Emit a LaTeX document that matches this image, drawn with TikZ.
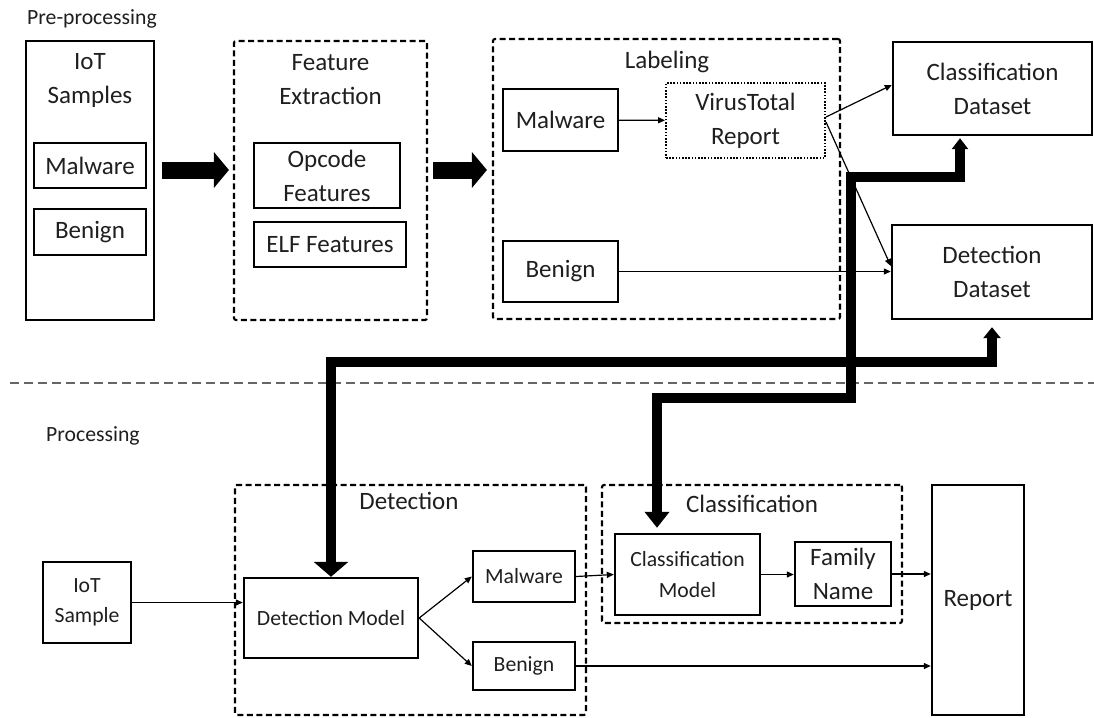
\documentclass[tikz,border=0pt]{standalone}
\usepackage{fontspec}
\setmainfont{Carlito}
\usetikzlibrary{arrows.meta,calc}
\newcommand\fsB{\fontsize{25}{34}\selectfont}
\newcommand\fsS{\fontsize{21.7}{30.5}\selectfont}
\begin{document}
\begin{tikzpicture}[x=1pt,y=-1pt,
  every node/.style={text=black!88},
  box/.style={draw, line width=2.4pt, inner sep=0pt, align=center, font=\fsB},
  sm/.style={font=\fsS},
  dbox/.style={draw, line width=2.1pt, dash pattern=on 6pt off 3.5pt, rounded corners=2pt, inner sep=0pt},
  dotbox/.style={draw, line width=2pt, dash pattern=on 1.6pt off 1.6pt, inner sep=0pt, align=center, font=\fsB},
  ttl/.style={align=center, font=\fsB, inner sep=0pt},
  lbl/.style={font=\fsS, inner sep=0pt},
  arr/.style={line width=1.2pt, -{Triangle[width=6pt,length=7pt]}},
  block/.style={line width=17pt, -{Triangle[width=35pt,length=15pt]}},
  bus/.style={line width=10pt, line join=miter},
  sep/.style={line width=2.6pt, draw=black!60, dash pattern=on 8.5pt off 5.5pt}
]
\useasboundingbox (0,0) rectangle (1094,717);
\fill[white] (0,0) rectangle (1094,717);

% ---------- Pre-processing ----------
\node[lbl, anchor=west] (prep) at (27,19) {Pre-processing};

\node[box, minimum width=128pt, minimum height=279pt] (iots) at (90,180.5) {};
\node[ttl] (iotsT) at (90,80) {IoT\\Samples};
\node[box, minimum width=112pt, minimum height=45pt] (mal1) at (90,165.5) {Malware};
\node[box, minimum width=112pt, minimum height=46pt] (ben1) at (90,232) {Benign};

\node[dbox, minimum width=193pt, minimum height=279pt] (fe) at (330.5,180.5) {};
\node[ttl] (feT) at (330.5,80) {Feature\\Extraction};
\node[box, minimum width=146pt, minimum height=65pt] (opc) at (327,175.5) {Opcode\\Features};
\node[box, minimum width=152pt, minimum height=45pt] (elf) at (330,244.5) {ELF Features};

\node[dbox, minimum width=347pt, minimum height=280pt] (lab) at (666.5,179) {};
\node[ttl] (labT) at (667,62) {Labeling};
\node[box, minimum width=115pt, minimum height=62pt] (mal2) at (560.5,120) {Malware};
\node[dotbox, minimum width=159pt, minimum height=75pt] (vt) at (745.5,120.5) {VirusTotal\\Report};
\node[box, minimum width=115pt, minimum height=61pt] (ben2) at (560.5,271.5) {Benign};

\node[box, minimum width=199pt, minimum height=93pt] (cds) at (992.5,88.5) {Classification\\Dataset};
\node[box, minimum width=200pt, minimum height=94pt] (dds) at (992,272) {Detection\\Dataset};

% block arrows between the stages
\draw[block, shorten <=7pt, shorten >=4pt] ([yshift=10.5pt]iots.east) -- ([yshift=10.5pt]fe.west);
\draw[block, shorten <=5pt, shorten >=5pt] ([yshift=10.5pt]fe.east) -- ([yshift=9pt]lab.west);

% labeling flow
\draw[arr] (mal2) -- (vt);
\draw[arr] ([yshift=3.5pt]vt.east) -- ([yshift=3.5pt]cds.west);
\draw[arr] ([yshift=-1.5pt]vt.east) -- ([yshift=6pt]dds.west);
\draw[arr] (ben2.east) -- (ben2.east -| dds.west);

% ---------- separator ----------
\coordinate (sepL) at (10,383);
\coordinate (sepR) at (1094,383);
\draw[sep] (sepL) -- (sepR);

% ---------- Processing ----------
\node[lbl, anchor=west] (proc) at (46,436) {Processing};

\node[box, sm, minimum width=88pt, minimum height=81pt] (iot) at (87,602.5) {IoT\\Sample};

\node[dbox, minimum width=351pt, minimum height=230pt] (det) at (410.5,600) {};
\node[ttl] (detT) at (409,501) {Detection};
\node[box, sm, minimum width=174pt, minimum height=80pt] (dm) at (331,618) {Detection Model};
\node[box, sm, minimum width=102pt, minimum height=51pt] (mal3) at (524,576.5) {Malware};
\node[box, sm, minimum width=102pt, minimum height=48pt] (ben3) at (524,666) {Benign};

\node[dbox, minimum width=300pt, minimum height=138pt] (cls) at (752,554) {};
\node[ttl] (clsT) at (752,504) {Classification};
\node[box, sm, minimum width=145pt, minimum height=81pt] (cm) at (687.5,574.5) {Classification\\Model};
\node[box, minimum width=96pt, minimum height=64pt] (fam) at (843,574) {Family\\Name};

\node[box, minimum width=92pt, minimum height=230pt] (rep) at (978,600) {Report};

\draw[arr] (iot.east) -- (iot.east -| dm.west);
\draw[arr] (dm.east) -- (mal3.west);
\draw[arr] (dm.east) -- (ben3.west);
\draw[arr] (mal3.east) -- (cm.west);
\draw[arr] (cm.east) -- (cm.east -| fam.west);
\draw[arr] (fam.east) -- (fam.east -| rep.west);
\draw[arr] (ben3.east) -- (ben3.east -| rep.west);

% ---------- dataset buses ----------
\coordinate (busB) at (0,362);
\coordinate (busA1) at (0,177);
\coordinate (busA2) at (0,397.5);
\coordinate (colA) at (851,0);
\coordinate (cdsIn) at ([xshift=-32.5pt]cds.south);
\coordinate (cmIn) at ([xshift=-30.5pt]cm.north);

\draw[bus, {Triangle[width=17pt,length=11pt]}-{Triangle[width=34pt,length=15pt]}, shorten <=7pt]
  (dds.south) -- (dds.south |- busB) -| (dm.north);
\draw[bus, {Triangle[width=16pt,length=11pt]}-{Triangle[width=24pt,length=16pt]}, shorten <=2pt, shorten >=5pt]
  (cdsIn) -- (cdsIn |- busA1) -- (colA |- busA1) -- (colA |- busA2) -| (cmIn);
\end{tikzpicture}
\end{document}
